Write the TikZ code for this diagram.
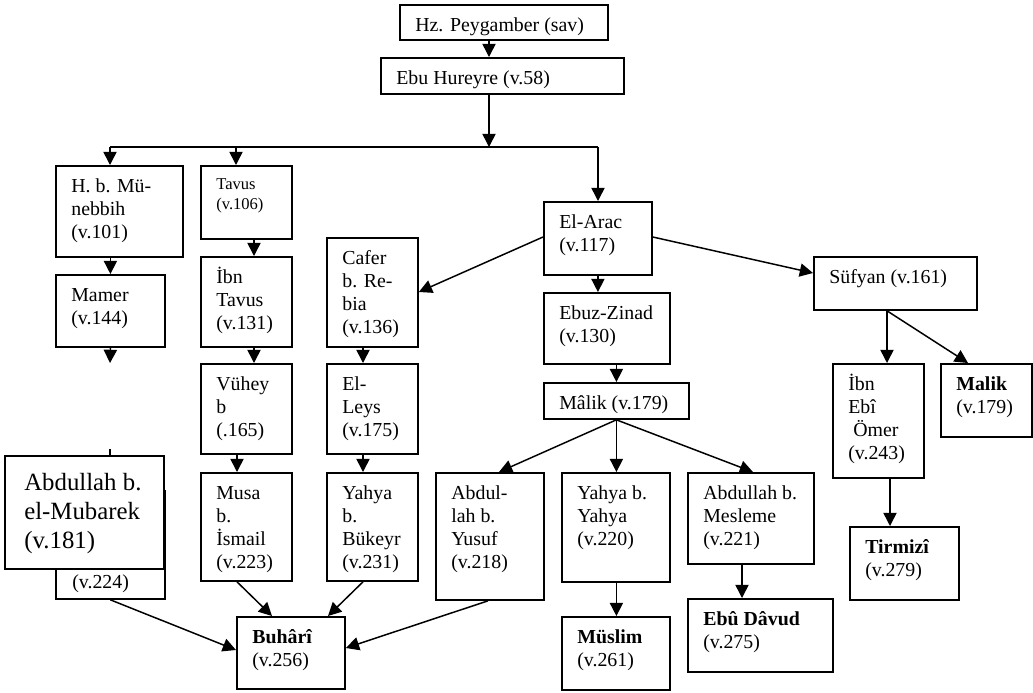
\documentclass[tikz,border=0pt]{standalone}
\usepackage{fontspec}
\setmainfont{Liberation Serif}
\usetikzlibrary{arrows.meta}

\def\px{0.02125cm}
% KUTU: [yazi stili] ad, x, y (sol ust), genislik, yukseklik, metin
\newcommand{\kutu}[7][yazi]{%
  \node[kutu, minimum width=#5*\px, minimum height=#6*\px] (#2) at (#3,#4) {};
  \node[#1] (#2-t) at (#2.north west) {\rule{0pt}{0.9em}#7};
}

\begin{document}
\begin{tikzpicture}[x=\px, y=-\px,
    kutu/.style={draw, line width=1.1pt, fill=white, anchor=north west, inner sep=0pt},
    metin/.style={inner sep=0pt, align=left, font=\fontsize{12}{13.9}\selectfont},
    yazi/.style={metin, anchor=north west, xshift=16*\px, yshift=-9*\px},
    kucuk/.style={yazi, font=\fontsize{10}{12}\selectfont},
    buyuk/.style={metin, anchor=north west, font=\fontsize{15}{17.5}\selectfont, xshift=20*\px, yshift=-12.7*\px},
    ok/.style={line width=0.9pt, -{Triangle[length=8pt,width=8pt]}},
    cizgi/.style={line width=0.8pt}]
        \useasboundingbox (0,0) rectangle (1033,692);
        %UST
        \kutu{hz}{399}{4}{208}{35}{Hz. Peygamber (sav)}
        \kutu{ebu}{380}{57}{243}{36}{Ebu Hureyre (v.58)}
        %SOL
        \kutu{hb}{55}{165}{127}{91}{H. b. Mü-\\nebbih\\(v.101)}
        \kutu{mamer}{55}{274}{109}{72}{Mamer\\(v.144)}
        \kutu[kucuk]{tavus}{200}{165}{91}{73}{Tavus\\(v.106)}
        \kutu{ibntavus}{200}{256}{91}{90}{İbn\\Tavus\\(v.131)}
        \kutu{vuhey}{200}{363}{91}{90}{Vühey\\b\\(.165)}
        \kutu{musa}{200}{472}{91}{108}{Musa\\b.\\İsmail\\(v.223)}
        \kutu{cafer}{326}{237}{91}{109}{Cafer\\b. Re-\\bia\\(v.136)}
        \kutu{leys}{326}{363}{91}{90}{El-\\Leys\\(v.175)}
        \kutu{bukeyr}{326}{472}{91}{108}{Yahya\\b.\\Bükeyr\\(v.231)}
        \kutu{buhari}{236}{616}{108}{72}{\textbf{Buhârî}\\(v.256)}
        %ARKADAKI KUTU
        \node[kutu, minimum width=109*\px, minimum height=108*\px] (gizli) at (55,490) {};
        \node[metin, anchor=base west] (gizli-t) at (72,588) {(v.224)};
        \coordinate (gizliust) at (110,449);
        \draw[ok] (gizliust) -- (gizli.north -| gizliust);
        \kutu[buyuk]{mubarek}{4}{455}{159}{113}{Abdullah b.\\el-Mubarek\\(v.181)}
        %ORTA
        \kutu{elarac}{543}{201}{108}{73}{El-Arac\\(v.117)}
        \kutu{ebuz}{543}{292}{126}{71}{Ebuz-Zinad\\(v.130)}
        \kutu{malik}{543}{382}{145}{36}{Mâlik (v.179)}
        \kutu{yusuf}{435}{472}{108}{127}{Abdul-\\lah b.\\Yusuf\\(v.218)}
        \kutu{yahya}{561}{472}{108}{109}{Yahya b.\\Yahya\\(v.220)}
        \kutu{mesleme}{687}{472}{126}{91}{Abdullah b.\\Mesleme\\(v.221)}
        \kutu{muslim}{561}{616}{108}{73}{\textbf{Müslim}\\(v.261)}
        \kutu{davud}{687}{598}{145}{73}{\textbf{Ebû Dâvud}\\(v.275)}
        %SAG
        \kutu{sufyan}{813}{256}{163}{53}{Süfyan (v.161)}
        \kutu{ibnebi}{832}{363}{91}{114}{İbn\\Ebî\\\hspace*{0.25em}Ömer\\(v.243)}
        \kutu{malikb}{940}{363}{91}{73}{\textbf{Malik}\\(v.179)}
        \kutu{tirmizi}{849}{526}{109}{73}{\textbf{Tirmizî}\\(v.279)}
        %OKLAR
        \coordinate (dal) at (489,147);
        \coordinate (dalsol) at (110,147);
        \coordinate (dalsag) at (598,147);
        \draw[ok] (hz.south -| dal) -- (ebu.north -| dal);
        \draw[ok] (ebu.south -| dal) -- (dal);
        \draw[cizgi] (dalsol) -- (dalsag);
        \draw[ok] (dalsol) -- (hb.north -| dalsol);
        \draw[ok] (dal -| 236,0) -- (tavus.north -| 236,0);
        \draw[ok] (dalsag) -- (elarac.north -| dalsag);
        \draw[ok] (hb.south -| mamer.north) -- (mamer.north);
        \coordinate (mameruc) at (110,363);
        \draw[ok] (mamer.south) -- (mameruc);
        \draw[ok] (tavus.south -| 254,0) -- (ibntavus.north -| 254,0);
        \draw[ok] (ibntavus.south -| 254,0) -- (vuhey.north -| 254,0);
        \draw[ok] (vuhey.south -| 237,0) -- (musa.north -| 237,0);
        \draw[ok] (cafer.south -| 363,0) -- (leys.north -| 363,0);
        \draw[ok] (leys.south -| 363,0) -- (bukeyr.north -| 363,0);
        \draw[ok] (elarac.west |- 0,237) -- (cafer.east |- 0,292);
        \draw[ok] (elarac.south) -- (ebuz.north -| elarac.south);
        \draw[ok] (elarac.east |- 0,237) -- (sufyan.west |- 0,273);
        \draw[ok] (ebuz.south -| malik.north) -- (malik.north);
        \draw[ok] (malik.south) -- (yusuf.north -| 499,0);
        \draw[ok] (malik.south) -- (yahya.north -| malik.south);
        \draw[ok] (malik.south) -- (mesleme.north -| 753,0);
        \draw[ok] (yahya.south -| malik.south) -- (muslim.north -| malik.south);
        \draw[ok] (mesleme.south -| 742,0) -- (davud.north -| 742,0);
        \draw[ok] (sufyan.south -| 887,0) -- (ibnebi.north -| 887,0);
        \draw[ok] (sufyan.south -| 887,0) -- (malikb.north -| 968,0);
        \draw[ok] (ibnebi.south -| 890,0) -- (tirmizi.north -| 890,0);
        \draw[ok] (musa.south -| 237,0) -- (buhari.north -| 272,0);
        \draw[ok] (bukeyr.south -| 363,0) -- (buhari.north -| 328,0);
        \draw[ok] (gizli.south) -- (buhari.west |- 0,650);
        \draw[ok] (yusuf.south -| 488,0) -- (buhari.east |- 0,648);
\end{tikzpicture}
\end{document}
